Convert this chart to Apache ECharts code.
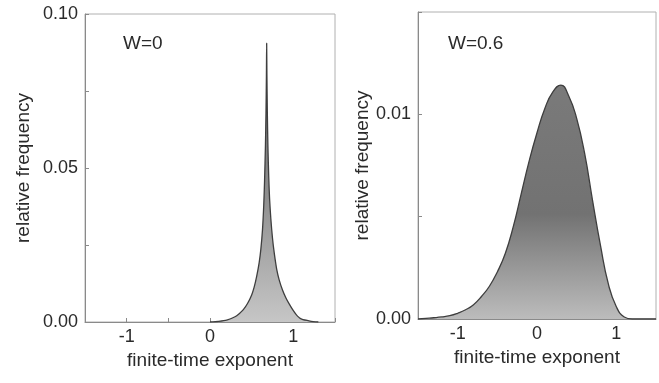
<!DOCTYPE html>
<html>
<head>
<meta charset="utf-8">
<script src="https://cdn.jsdelivr.net/npm/echarts@6/dist/echarts.min.js"></script>
<style>html,body{margin:0;padding:0;background:#fff;}#c{width:659px;height:383px;}</style>
</head>
<body>
<div id="c"></div>
<script>
// Left panel (W=0)
const leftX = [0.0, 0.1, 0.2, 0.3, 0.35, 0.4, 0.45, 0.5, 0.53, 0.56, 0.59, 0.61, 0.63, 0.645, 0.655, 0.665, 0.672, 0.677, 0.68, 0.683, 0.688, 0.695, 0.705, 0.715, 0.73, 0.75, 0.77, 0.80, 0.83, 0.87, 0.91, 0.95, 1.0, 1.05, 1.1, 1.2, 1.3];
const leftY = [0.0, 0.0002, 0.0006, 0.0017, 0.0027, 0.0040, 0.0060, 0.0088, 0.0113, 0.0148, 0.0193, 0.0236, 0.0300, 0.0380, 0.0460, 0.0570, 0.0680, 0.0800, 0.0905, 0.0800, 0.0680, 0.0570, 0.0470, 0.0400, 0.0335, 0.0272, 0.0226, 0.0172, 0.0137, 0.0104, 0.0079, 0.0059, 0.0037, 0.0019, 0.0009, 0.0003, 0.0];
// Right panel (W=0.6)
const rightX = [-1.5, -1.4, -1.3, -1.2, -1.1, -1.0, -0.9, -0.8, -0.7, -0.6, -0.5, -0.4, -0.3, -0.2, -0.1, 0.0, 0.1, 0.2, 0.3, 0.4, 0.5, 0.6, 0.7, 0.8, 0.9, 1.0, 1.1, 1.2, 1.5];
const rightY = [0.0, 0.00003, 0.00006, 0.0001, 0.00016, 0.00028, 0.00045, 0.0007, 0.0011, 0.0016, 0.0023, 0.0032, 0.0045, 0.0061, 0.0077, 0.0091, 0.0103, 0.0111, 0.01143, 0.0109, 0.0098, 0.0081, 0.0058, 0.0036, 0.0017, 0.0006, 0.0001, 0.0, 0.0];
const panelLabels = ['W=0', 'W=0.6'];
const xTitle = 'finite-time exponent';
const yTitle = 'relative frequency';

const FONT = '"Liberation Sans", Arial, sans-serif';
const zip = (xs, ys) => xs.map((x, i) => [x, ys[i]]);

const chart = echarts.init(document.getElementById('c'), null, {renderer: 'canvas'});

function xAxis(gi, showTicks) {
  return {
    type: 'value', gridIndex: gi, min: -1.5, max: 1.5, interval: 0.5,
    name: xTitle, nameLocation: 'middle', nameGap: 20,
    nameTextStyle: {fontSize: 19, color: '#2a2a2a', fontFamily: FONT},
    axisLine: {show: true, onZero: false, lineStyle: {color: '#8a8a8a', width: 1}},
    axisTick: {show: showTicks, inside: true, length: 4, lineStyle: {color: '#8a8a8a'}},
    axisLabel: {
      fontSize: 18, color: '#2a2a2a', fontFamily: FONT, margin: 6,
      formatter: v => (Math.abs(v - Math.round(v)) < 1e-9 ? String(Math.round(v)) : '')
    },
    splitLine: {show: false}
  };
}
function yAxis(gi, max, interval, labelSet, gap) {
  return {
    type: 'value', gridIndex: gi, min: 0, max: max, interval: interval,
    name: yTitle, nameLocation: 'middle', nameGap: gap,
    nameTextStyle: {fontSize: 19, color: '#2a2a2a', fontFamily: FONT},
    axisLine: {show: true, onZero: false, lineStyle: {color: '#8a8a8a', width: 1}},
    axisTick: {show: true, inside: true, length: 4, lineStyle: {color: '#8a8a8a'}},
    axisLabel: {
      fontSize: 18, color: '#2a2a2a', fontFamily: FONT, margin: 7,
      formatter: v => (labelSet.includes(Math.round(v * 1000)) ? v.toFixed(2) : '')
    },
    splitLine: {show: false}
  };
}
function area(gi, data, smooth) {
  return {
    type: 'line', xAxisIndex: gi, yAxisIndex: gi, data: data,
    symbol: 'none', smooth: smooth,
    lineStyle: {color: '#3e3e3e', width: 1.3},
    areaStyle: {
      color: {type: 'linear', x: 0, y: 0, x2: 0, y2: 1, colorStops: [
        {offset: 0, color: gi === 0 ? '#6a6a6a' : '#7a7a7a'},
        {offset: 0.55, color: gi === 0 ? '#8f8f8f' : '#727272'},
        {offset: 1, color: gi === 0 ? '#c6c6c6' : '#bcbcbc'}
      ]},
      opacity: 1
    },
    silent: true
  };
}

chart.setOption({
  animation: false,
  backgroundColor: '#ffffff',
  grid: [
    {left: 85, top: 14, width: 250, bottom: 61, show: true, borderColor: '#b0b0b0', borderWidth: 1},
    {left: 418, top: 12, width: 250, bottom: 64, show: true, borderColor: '#b0b0b0', borderWidth: 1}
  ],
  xAxis: [xAxis(0, true), xAxis(1, false)],
  yAxis: [yAxis(0, 0.1, 0.025, [0, 50, 100], 52), yAxis(1, 0.015, 0.005, [0, 10], 46)],
  series: [area(0, zip(leftX, leftY), 0.25), area(1, zip(rightX, rightY), 0.5)],
  graphic: [
    {type: 'text', left: 123, top: 34, style: {text: panelLabels[0], fontSize: 19, fill: '#2a2a2a', fontFamily: FONT}},
    {type: 'text', left: 448, top: 34, style: {text: panelLabels[1], fontSize: 19, fill: '#2a2a2a', fontFamily: FONT}}
  ]
});
</script>
</body>
</html>
